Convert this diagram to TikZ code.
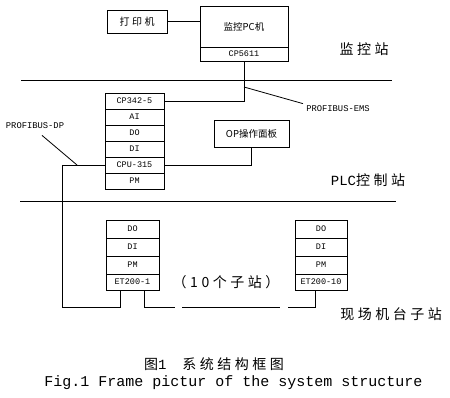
\documentclass[tikz,border=0pt]{standalone}
\usepackage{fontspec}
\setmainfont{Liberation Mono}
\newfontfamily\mono{Liberation Mono}
\newfontfamily\cjk{Noto Sans CJK SC}
\newfontfamily\cjkw[LetterSpace=25]{Noto Sans CJK SC}
\usetikzlibrary{positioning, calc}
\tikzset{
    % plain framed unit (printer, PC, operator panel)
    modbox/.style={draw, inner sep=0pt, font=\cjk\fontsize{9.5}{11}\selectfont},
    % one row of a module rack
    rackrow/.style={draw, inner sep=0pt, minimum width=59pt, minimum height=16pt,
        font=\fontsize{8.5}{9}\selectfont},
    % bus names with leader lines
    buslabel/.style={inner sep=1pt, font=\fontsize{8.8}{10}\selectfont},
    % big station names on the right
    station/.style={inner sep=0pt, font=\cjkw\fontsize{14}{16}\selectfont},
}

\begin{document}
\begin{tikzpicture}[x=1pt, y=-1pt, line width=0.8pt]
    \useasboundingbox (0,0) rectangle (450,398);

    % ---- monitoring station ----
    \node[modbox, minimum width=60pt, minimum height=23pt, font=\cjkw\fontsize{10}{11}\selectfont]
        (printer) at (137, 21.5) {打印机};
    \node[modbox, minimum width=88pt, minimum height=41pt] (pc) at (244, 26.5) {监控PC机};
    \node[modbox, minimum width=88pt, minimum height=14pt, font=\mono\fontsize{8.5}{9}\selectfont]
        (cp5611) at (244, 54) {CP5611};
    \draw (printer.east) -- (printer.east -| pc.west);
    \node[station] (monlbl) at (364, 49) {监控站};

    \coordinate (busAl) at (21, 80);
    \coordinate (busAr) at (392, 80);
    \draw (busAl) -- (busAr);

    % ---- PLC station ----
    \foreach \lbl [count=\i] in {CP342-5, AI, DO, DI, CPU-315, PM}
        \node[rackrow] (plc\i) at (134.5, 85+16*\i) {\lbl};

    \draw (cp5611.south) |- (plc1.east);
    \node[buslabel] (emslbl) at (338, 109) {PROFIBUS-EMS};
    \coordinate (emsA) at (244, 87);
    \draw (emsA) -- ($(emslbl.north west)+(-2,-1)$);

    \node[modbox, minimum width=75pt, minimum height=27pt] (op) at (251.5, 133.5) {OP操作面板};
    \draw (op.south) |- (plc5.east);

    \node[buslabel] (dplbl) at (35, 126) {PROFIBUS-DP};
    \coordinate (dpA) at (62, 165);
    \coordinate (dpB) at (77, 165);
    \draw (plc5.west) -- (dpA);
    \draw ($(dplbl.south)+(7,5)$) -- (dpB);

    \node[station] (plclbl) at (368, 180) {{\mono\fontsize{14}{16}\selectfont PLC}控制站};

    \coordinate (busBl) at (20, 201);
    \coordinate (busBr) at (396, 201);
    \draw (busBl) -- (busBr);

    % ---- field stations ----
    \foreach \lbl/\yy/\hh [count=\i] in {DO/229/18, DI/247/18, PM/265/18, ET200-1/282/16}
        \node[rackrow, minimum width=53pt, minimum height=\hh pt] (etA\i) at (132.5, \yy) {\lbl};
    \foreach \lbl/\yy/\hh [count=\i] in {DO/229/18, DI/247/18, PM/265/18, ET200-10/282/16}
        \node[rackrow, minimum width=52pt, minimum height=\hh pt] (etB\i) at (321, \yy) {\lbl};

    \coordinate (fbA) at (62, 307);
    \coordinate (gapA) at (175, 307);
    \coordinate (gapB) at (182, 307);
    \coordinate (gapC) at (280, 307);
    \coordinate (gapD) at (288, 307);
    \draw (dpA) -- (fbA) -| ([xshift=-12pt]etA4.south);
    \draw ([xshift=12pt]etA4.south) |- (gapA);
    \draw (gapB) -- (gapC);
    \draw (gapD) -| ([xshift=-6pt]etB4.south);

    \node[station] (cntlbl) at (226, 282) {（10个子站）};
    \node[station] (fieldlbl) at (391, 314) {现场机台子站};

    % ---- caption ----
    \node[station] (capcn) at (214, 364) {图{\mono 1}\hspace{16pt}系统结构框图};
    \node[inner sep=0pt, font=\fontsize{15}{16}\selectfont] (capen) at (233.5, 383)
        {Fig.1 Frame pictur of the system structure};

\end{tikzpicture}
\end{document}
